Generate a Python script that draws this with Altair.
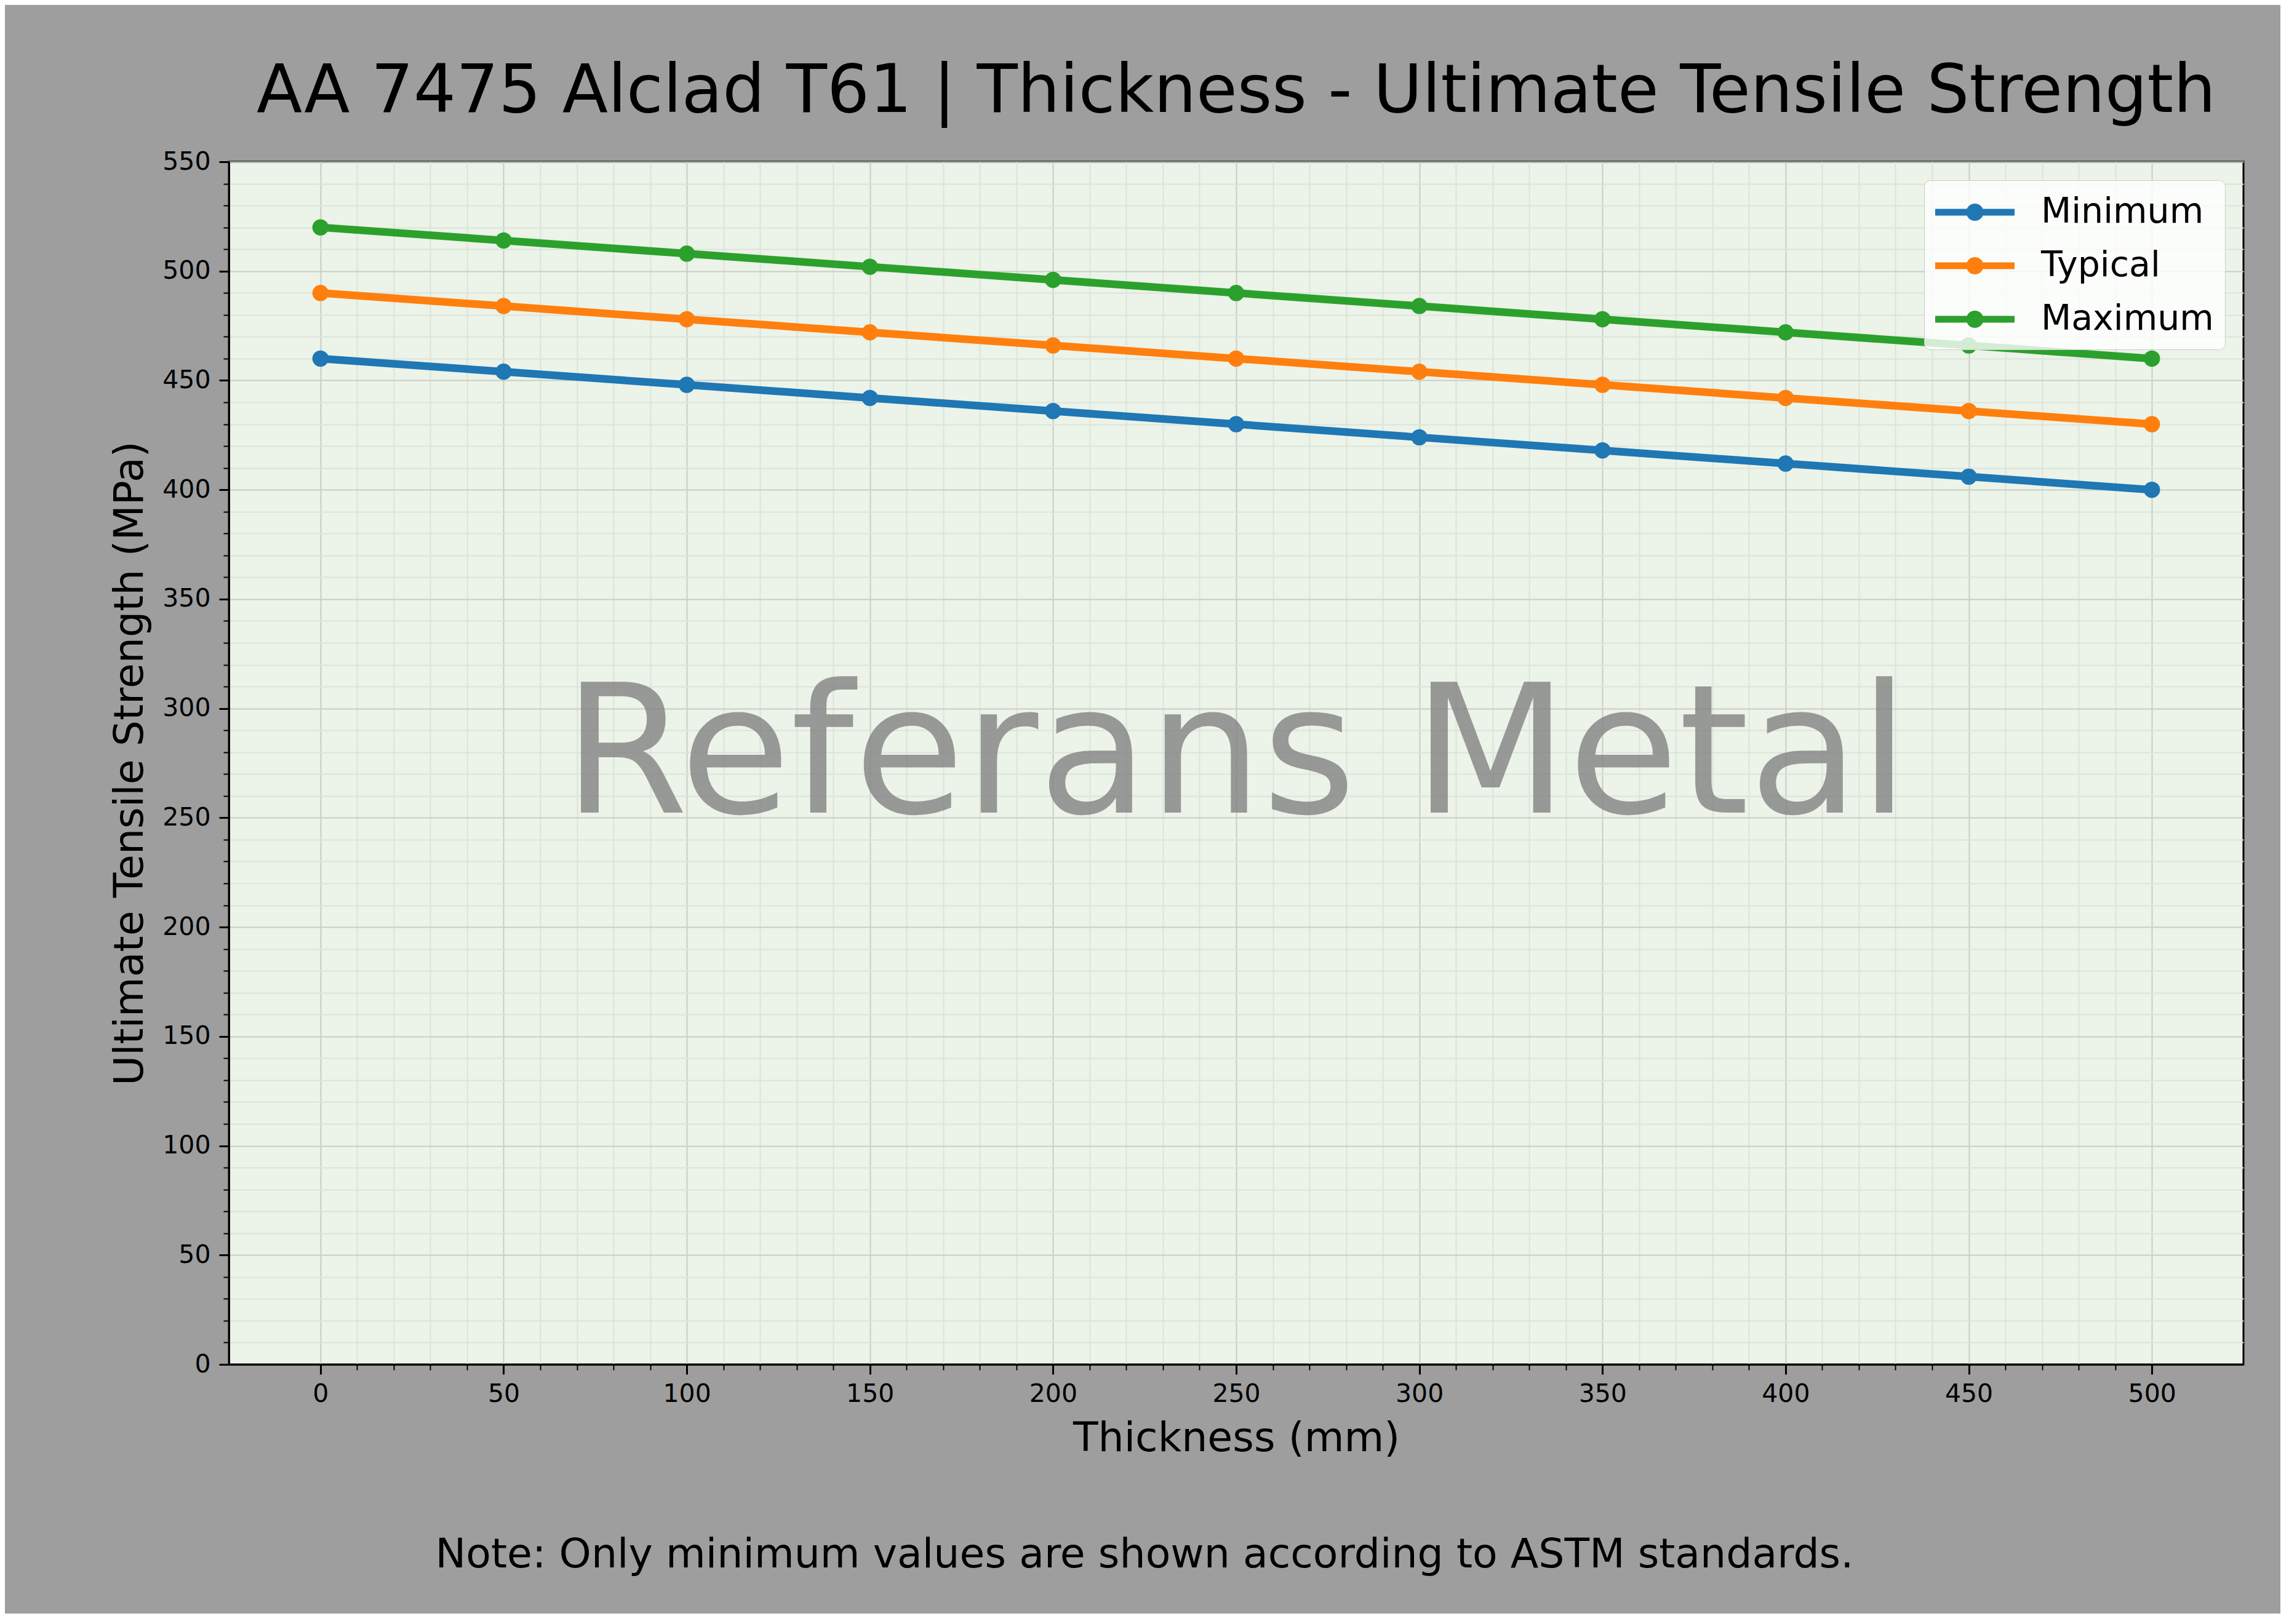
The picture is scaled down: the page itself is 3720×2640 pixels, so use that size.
import altair as alt
import pandas as pd

# ---- data ----
thickness = [0, 50, 100, 150, 200, 250, 300, 350, 400, 450, 500]
minimum = [460, 454, 448, 442, 436, 430, 424, 418, 412, 406, 400]
typical = [490, 484, 478, 472, 466, 460, 454, 448, 442, 436, 430]
maximum = [520, 514, 508, 502, 496, 490, 484, 478, 472, 466, 460]
series_names = ["Minimum", "Typical", "Maximum"]
series_colors = ["#1f77b4", "#ff7f0e", "#2ca02c"]

title_text = "AA 7475 Alclad T61 | Thickness - Ultimate Tensile Strength"
x_title = "Thickness (mm)"
y_title = "Ultimate Tensile Strength (MPa)"
watermark_text = ["Referans Metal"]
note_text = ["Note: Only minimum values are shown according to ASTM standards."]

x_tick_values = list(range(0, 501, 10))   # major every 50, minor every 10
y_tick_values = list(range(0, 551, 10))

rows = []
for name, vals in zip(series_names, [minimum, typical, maximum]):
    for t, v in zip(thickness, vals):
        rows.append({"Thickness": t, "UTS": v, "Series": name})
df = pd.DataFrame(rows)

W, H = 3274, 1955
FONT = "DejaVu Sans"

major_test = "datum.value % 50 === 0"

def make_axis(title, values, label_padding, title_padding):
    return alt.Axis(
        title=title,
        values=values,
        tickCount=200,
        labelExpr="datum.value % 50 === 0 ? datum.label : ''",
        labelOverlap=False,
        labelFlush=False,
        labelFontSize=alt.condition(major_test, alt.value(41), alt.value(0)),
        labelFont=FONT,
        labelColor="black",
        labelPadding=label_padding,
        labelLimit=0,
        titleFontSize=66.5,
        titleFont=FONT,
        titleFontWeight="normal",
        titleColor="black",
        titlePadding=title_padding,
        tickColor="black",
        tickSize=alt.condition(major_test, alt.value(16), alt.value(9)),
        tickWidth=alt.condition(major_test, alt.value(3), alt.value(2)),
        gridColor=alt.condition(major_test, alt.value("#c8cec5"), alt.value("#dce4d9")),
        gridWidth=2,
        domainColor="black",
        domainWidth=3,
    )

# legend glyph: a line segment with a dot in the middle (units of sqrt(size)/2)
legend_symbol = (
    "M-1.193,0L3.333,0"
    "M0.877,0A0.193,0.193,0,1,1,1.263,0A0.193,0.193,0,1,1,0.877,0"
    "M0.772,0A0.298,0.298,0,1,1,1.368,0A0.298,0.298,0,1,1,0.772,0"
)

x_enc = alt.X("Thickness:Q", scale=alt.Scale(domain=[-25, 525], nice=False, zero=False),
              axis=make_axis(x_title, x_tick_values, 12, 19))
y_enc = alt.Y("UTS:Q", scale=alt.Scale(domain=[0, 550], nice=False),
              axis=make_axis(y_title, y_tick_values, 14, 18))

color_scale = alt.Scale(domain=series_names, range=series_colors)

base = alt.Chart(df)

lines = base.mark_line(strokeWidth=12.5).encode(
    x=x_enc,
    y=y_enc,
    color=alt.Color(
        "Series:N",
        scale=color_scale,
        sort=series_names,
        legend=alt.Legend(
            title=None,
            orient="top-right",
            offset=30,
            symbolType=legend_symbol,
            symbolSize=3249,
            symbolStrokeWidth=11,
            labelFontSize=57,
            labelFont=FONT,
            labelColor="black",
            labelOffset=104,
            labelLimit=0,
            padding=18,
            rowPadding=22,
            fillColor="rgba(255,255,255,0.8)",
            strokeColor="#cccccc",
            cornerRadius=10,
        ),
    ),
)

points = base.mark_circle(size=700, opacity=1).encode(
    x="Thickness:Q",
    y="UTS:Q",
    color=alt.Color("Series:N", scale=color_scale, legend=None),
)

watermark = alt.Chart(pd.DataFrame({"t": watermark_text})).mark_text(
    fontSize=292, font=FONT, color="#808080", opacity=0.78,
    align="center", baseline="alphabetic",
).encode(x=alt.value(W / 2), y=alt.value(1058), text="t:N")

note = alt.Chart(pd.DataFrame({"t": note_text})).mark_text(
    fontSize=66.5, font=FONT, color="black",
    align="center", baseline="alphabetic",
).encode(x=alt.value(1488), y=alt.value(2285), text="t:N")

chart = (
    alt.layer(watermark, lines, points, note)
    .properties(
        width=W,
        height=H,
        title=alt.Title(
            title_text,
            fontSize=108.5,
            font=FONT,
            fontWeight="normal",
            color="black",
            anchor="middle",
            frame="group",
            baseline="alphabetic",
            offset=-48,
        ),
        autosize=alt.AutoSizeParams(type="none"),
        padding={"left": 364, "top": 255, "right": 60, "bottom": 405},
        background="#9e9e9e",
    )
    .configure(font=FONT)
    .configure_view(fill="#ecf3e8", stroke="black", strokeWidth=3)
)

chart.save("out.html", embed_options={"renderer": "svg", "actions": False})
